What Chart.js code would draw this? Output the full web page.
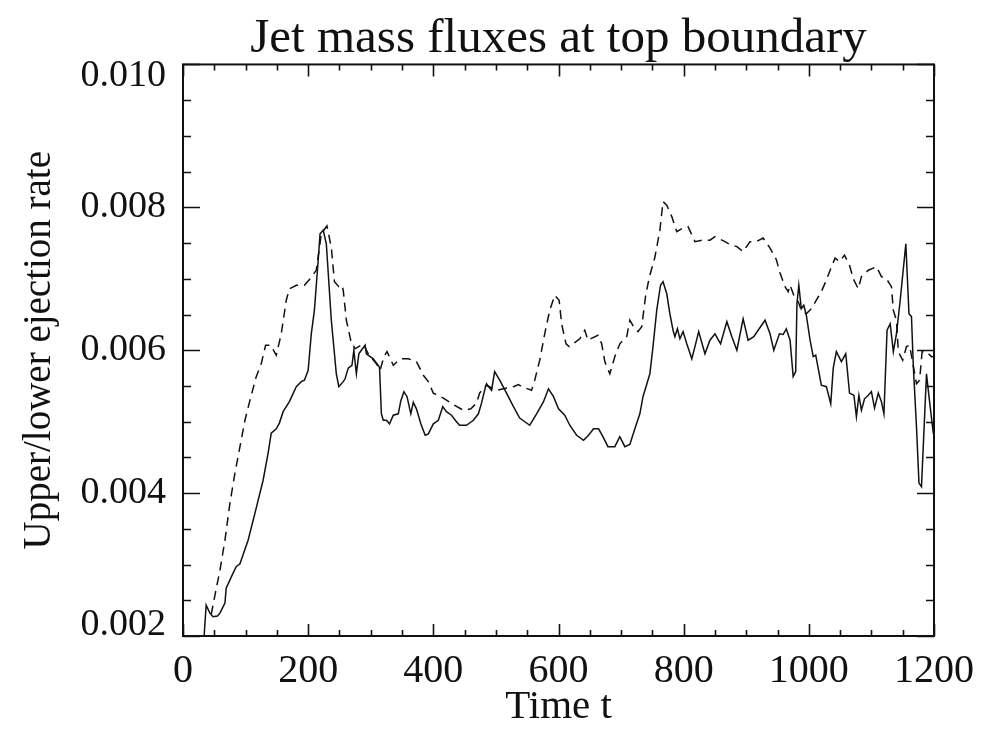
<!DOCTYPE html>
<html>
<head>
<meta charset="utf-8">
<script src="https://cdn.jsdelivr.net/npm/chart.js@4/dist/chart.umd.min.js"></script>
<style>
html,body{margin:0;padding:0;background:#fff;}
#c{display:block;}
</style>
</head>
<body>
<canvas id="c" width="993" height="732"></canvas>
<script>
// ---- data ----
const titleText = "Jet mass fluxes at top boundary";
const xTitle = "Time t";
const yTitle = "Upper/lower ejection rate";
const xTickValues = [0, 200, 400, 600, 800, 1000, 1200];
const yTickValues = [0.002, 0.004, 0.006, 0.008, 0.010];

// solid line (time, rate)
const solidT = [33,37,43,48,55,59,67,69,80,85,91,104,115,128,136,141,149,154,160,170,181,189,194,200,205,210,216,219,224,229,237,245,249,256,259,264,270,273,277,281,285,291,293,304,314,317,320,325,330,336,344,348,353,358,364,368,373,380,387,392,400,408,415,421,429,437,442,453,464,472,477,482,485,488,493,498,506,517,528,538,554,565,576,584,592,600,610,618,629,640,648,656,664,671,679,690,698,706,714,722,730,735,746,751,757,763,767,773,778,783,786,790,794,799,805,813,818,824,834,842,850,859,869,877,885,895,903,912,919,930,938,944,953,959,964,970,975,979,981,984,988,992,996,1002,1007,1011,1020,1028,1035,1039,1044,1052,1059,1065,1072,1076,1080,1084,1089,1095,1100,1105,1111,1116,1120,1125,1130,1135,1140,1146,1155,1160,1164,1167,1172,1176,1180,1188,1192,1199];
const solidV = [0.0019,0.00243,0.00232,0.00227,0.00228,0.00232,0.00246,0.00267,0.00288,0.00297,0.00301,0.00334,0.00372,0.00418,0.00456,0.00484,0.0049,0.00498,0.00514,0.00528,0.00549,0.00556,0.00558,0.00572,0.00623,0.00656,0.00726,0.00763,0.00768,0.00749,0.00642,0.00567,0.00549,0.00556,0.0056,0.00575,0.00579,0.006,0.00567,0.00595,0.006,0.00607,0.00595,0.00588,0.00576,0.00511,0.00502,0.00502,0.00497,0.00509,0.00511,0.00529,0.00542,0.00535,0.00511,0.00527,0.00518,0.00497,0.00481,0.00483,0.00497,0.00502,0.00521,0.00514,0.00509,0.005,0.00495,0.00495,0.00502,0.00511,0.00526,0.00544,0.00553,0.00549,0.00544,0.0057,0.00558,0.0054,0.00521,0.00505,0.00495,0.00511,0.00528,0.00546,0.00535,0.00518,0.00509,0.00495,0.00481,0.00474,0.00481,0.0049,0.0049,0.00479,0.00465,0.00465,0.00479,0.00465,0.00468,0.0049,0.00511,0.00535,0.00567,0.00605,0.00656,0.00691,0.00696,0.00679,0.00651,0.00628,0.00619,0.0063,0.00616,0.00626,0.00609,0.00588,0.00605,0.00626,0.00595,0.00614,0.00623,0.00609,0.0064,0.00619,0.006,0.00644,0.00614,0.00619,0.00628,0.00642,0.00623,0.006,0.00623,0.00622,0.0063,0.00614,0.00563,0.0057,0.00665,0.00691,0.00658,0.00663,0.00649,0.00614,0.00591,0.00593,0.00551,0.00549,0.00525,0.00575,0.00598,0.00584,0.00595,0.0054,0.00537,0.00507,0.00537,0.00516,0.00532,0.00537,0.00542,0.00519,0.0054,0.00528,0.00511,0.00628,0.00637,0.00598,0.00623,0.0067,0.00749,0.00651,0.00647,0.00577,0.00493,0.00414,0.00409,0.00567,0.00535,0.00483];

// dashed line (time, rate)
const dashT = [45,51,59,67,75,83,91,99,107,117,125,132,140,149,157,165,170,181,194,205,213,221,230,237,242,249,254,256,261,268,275,288,296,309,315,321,326,336,347,360,373,384,392,400,416,432,448,460,469,474,482,485,501,512,528,536,541,557,562,570,578,586,594,601,605,612,617,634,642,647,663,669,674,682,690,698,709,714,720,727,733,739,745,754,762,767,773,781,789,799,807,818,829,842,850,866,874,885,895,906,916,927,938,948,954,962,967,970,978,983,988,996,1004,1012,1020,1028,1034,1042,1049,1057,1065,1071,1079,1084,1095,1108,1116,1124,1132,1135,1140,1143,1150,1156,1161,1172,1177,1181,1188,1196,1200];
const dashV = [0.0023,0.00257,0.00292,0.00334,0.00386,0.00428,0.00465,0.00502,0.0053,0.00563,0.00581,0.00607,0.00607,0.00593,0.00623,0.0067,0.00686,0.00691,0.00691,0.00702,0.00712,0.00763,0.00774,0.00744,0.00696,0.00689,0.00691,0.00684,0.00642,0.00614,0.00602,0.00609,0.00595,0.00581,0.00572,0.00591,0.00598,0.00579,0.00588,0.00588,0.00584,0.00565,0.00556,0.0054,0.00533,0.00524,0.00516,0.00518,0.00526,0.0054,0.00549,0.00551,0.00544,0.00546,0.00549,0.00552,0.00549,0.00544,0.00558,0.00586,0.00623,0.00656,0.00677,0.0067,0.00637,0.00609,0.00605,0.00616,0.00628,0.00614,0.00621,0.00609,0.00584,0.00567,0.00591,0.00609,0.00619,0.00642,0.00633,0.00626,0.00633,0.00675,0.00702,0.0073,0.00768,0.00808,0.00803,0.00787,0.00766,0.00771,0.00773,0.00752,0.00754,0.00754,0.00759,0.00752,0.00748,0.00745,0.00738,0.00752,0.00752,0.00757,0.00743,0.00727,0.00708,0.00689,0.00682,0.00691,0.00672,0.00668,0.00656,0.00651,0.00658,0.0067,0.00682,0.00698,0.00712,0.00729,0.00724,0.00733,0.00719,0.007,0.00686,0.00703,0.00712,0.00717,0.00703,0.007,0.00689,0.00656,0.00642,0.00598,0.00586,0.00605,0.00607,0.00553,0.00558,0.00598,0.00598,0.00591,0.00591];

// ---- chart ----
const FONT = "'Liberation Serif', 'Times New Roman', serif";
const INK = '#111';

const toPts = (ts, vs) => ts.map((t, i) => ({x: t, y: vs[i]}));

// box + inward major/minor ticks on all four sides, positioned through the scales
const boxTicks = {
  id: 'boxTicks',
  afterDatasetsDraw(chart) {
    const {ctx, chartArea: a, scales: {x, y}} = chart;
    ctx.save();
    ctx.strokeStyle = INK;
    ctx.lineWidth = 2;
    ctx.strokeRect(a.left, a.top, a.right - a.left, a.bottom - a.top);
    ctx.lineWidth = 1.6;
    ctx.beginPath();
    for (let t = x.min; t <= x.max + 1e-9; t += 50) {
      const px = Math.round(x.getPixelForValue(t)) + 0.5;
      const len = (Math.round(t) % 200 === 0) ? 12 : 6;
      ctx.moveTo(px, a.bottom); ctx.lineTo(px, a.bottom - len);
      ctx.moveTo(px, a.top); ctx.lineTo(px, a.top + len);
    }
    for (let k = 0; k <= 16; k++) {
      const v = y.min + k * 0.0005;
      const py = Math.round(y.getPixelForValue(v)) + 0.5;
      const len = (k % 4 === 0) ? 17 : 8;
      ctx.moveTo(a.left, py); ctx.lineTo(a.left + len, py);
      ctx.moveTo(a.right, py); ctx.lineTo(a.right - len, py);
    }
    ctx.stroke();
    ctx.restore();
  }
};

// end labels sit inside the axis span (first one raised, last one lowered), as in the reference
const yLabel = (v) => {
  const s = Number(v).toFixed(3);
  if (Math.abs(v - yTickValues[0]) < 1e-9) return [s, ''];
  if (Math.abs(v - yTickValues[yTickValues.length - 1]) < 1e-9) return ['', s];
  return s;
};

new Chart(document.getElementById('c'), {
  type: 'line',
  data: {
    datasets: [
      {
        label: 'upper',
        data: toPts(solidT, solidV),
        borderColor: INK,
        borderWidth: 1.5,
        pointRadius: 0,
        tension: 0,
        fill: false
      },
      {
        label: 'lower',
        data: toPts(dashT, dashV),
        borderColor: INK,
        borderWidth: 1.5,
        borderDash: [9, 6],
        pointRadius: 0,
        tension: 0,
        fill: false
      }
    ]
  },
  options: {
    responsive: false,
    animation: false,
    layout: {padding: {left: 0, right: 59, top: 0, bottom: 0}},
    plugins: {
      legend: {display: false},
      tooltip: {enabled: false},
      title: {
        display: true,
        fullSize: false,
        text: titleText,
        color: INK,
        font: {family: FONT, size: 49, weight: 'normal', lineHeight: 1.05},
        padding: {top: 13, bottom: 0}
      }
    },
    scales: {
      x: {
        type: 'linear',
        min: 0,
        max: 1200,
        afterBuildTicks: (s) => { s.ticks = xTickValues.map(v => ({value: v})); },
        afterFit: (s) => { s.height = 96; },
        grid: {display: false},
        border: {display: false},
        ticks: {
          color: INK,
          padding: 3,
          maxRotation: 0,
          font: {family: FONT, size: 40},
          callback: (v) => String(v)
        },
        title: {
          display: true,
          text: xTitle,
          color: INK,
          font: {family: FONT, size: 41},
          padding: {top: 0, bottom: 0}
        }
      },
      y: {
        type: 'linear',
        min: 0.002,
        max: 0.010,
        afterBuildTicks: (s) => { s.ticks = yTickValues.map(v => ({value: v})); },
        afterFit: (s) => { s.width = 183; },
        grid: {display: false},
        border: {display: false},
        ticks: {
          color: INK,
          padding: 9,
          font: {family: FONT, size: 38, lineHeight: 0.6},
          callback: yLabel
        },
        title: {
          display: true,
          text: yTitle,
          color: INK,
          font: {family: FONT, size: 39},
          padding: {top: 16, bottom: 0}
        }
      }
    }
  },
  plugins: [boxTicks]
});
</script>
</body>
</html>
